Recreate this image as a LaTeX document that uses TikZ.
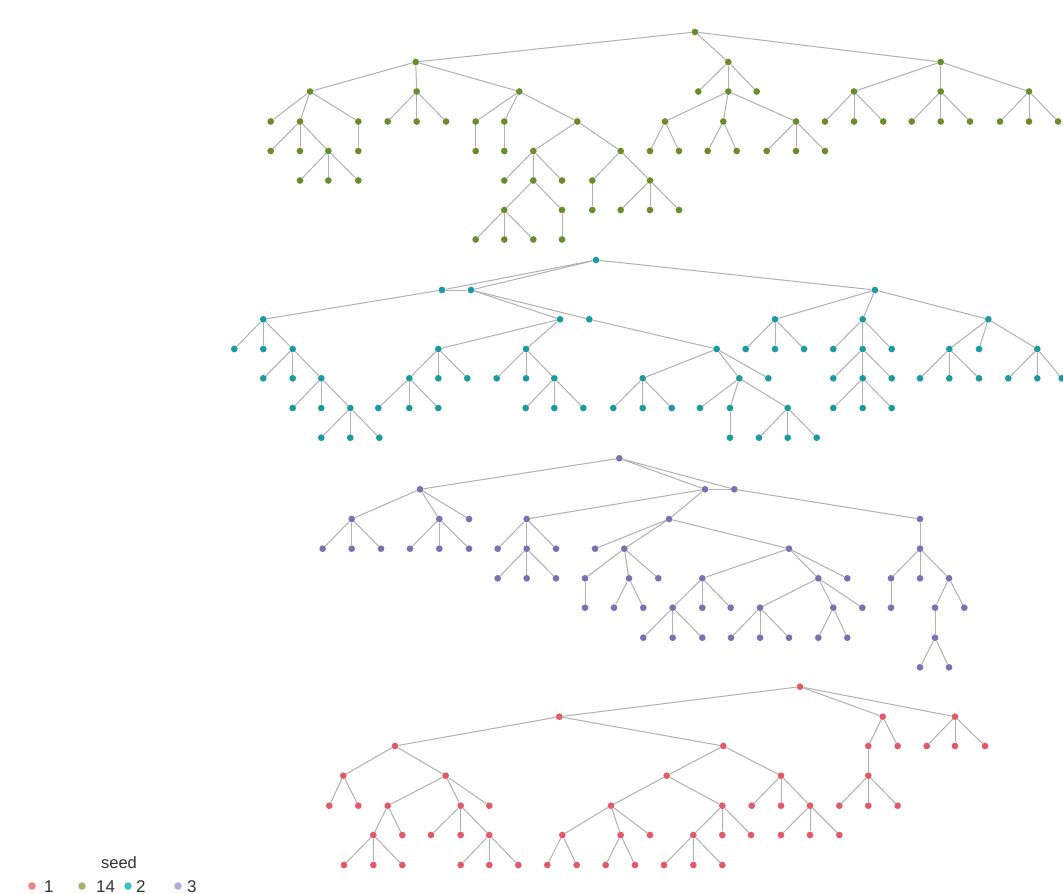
\documentclass[tikz,border=0pt]{standalone}
\usepackage{fontspec}
\setmainfont{Liberation Sans}
\definecolor{cg}{HTML}{6B8C2A}
\definecolor{ct}{HTML}{1B9AA0}
\definecolor{cp}{HTML}{7B70B0}
\definecolor{cr}{HTML}{E05A6A}
\definecolor{lg}{HTML}{A8B070}
\definecolor{lt}{HTML}{3CC0C2}
\definecolor{lp}{HTML}{B0ACD8}
\definecolor{lr}{HTML}{EE8088}
\definecolor{edgec}{HTML}{B0B0B0}
\definecolor{txt}{HTML}{333333}
\tikzset{
  dot/.style={circle,inner sep=0pt,minimum size=6.7pt,draw=none},
  gn/.style={dot,fill=cg},
  tn/.style={dot,fill=ct},
  pn/.style={dot,fill=cp},
  rn/.style={dot,fill=cr},
  edge/.style={draw=edgec,line width=1pt},
  legdot/.style={circle,inner sep=0pt,minimum size=7.5pt},
  legtxt/.style={text=txt,font=\fontsize{17}{17}\selectfont,inner sep=0pt,anchor=base west}
}
\begin{document}
\begin{tikzpicture}[x=1pt,y=-1pt]
\useasboundingbox (0,0) rectangle (1063,894);
\fill[white] (0,0) rectangle (1063,894);
% ---------------- tree 1 (seed 14) ----------------
\foreach \n/\x/\y in {
 g0/695/32, g1/415.7/62, g2/728.3/62, g3/940.7/62,
 g4/310/91.5, g5/416.7/91.5, g6/519.3/91.5,
 g7/270.7/121.5, g8/300/121.5, g9/358.3/121.5,
 g10/270.7/151, g11/300/151, g12/328.3/151,
 g13/300/180.5, g14/328.3/180.5, g15/358.3/180.5, g16/358.3/151,
 g17/387.7/121.5, g18/416.7/121.5, g19/446/121.5,
 g20/475.7/121.5, g21/504.3/121.5, g22/577.3/121.5,
 g23/475.7/151, g24/504.3/151, g25/533.3/151, g26/620.7/151,
 g27/504.3/180.5, g28/533.3/180.5, g29/562/180.5,
 g30/504.3/210, g31/562/210,
 g32/475.7/239.5, g33/504.3/239.5, g34/533.3/239.5, g35/562/239.5,
 g36/592.3/180.5, g37/650/180.5, g38/592.3/210,
 g39/620.7/210, g40/650/210, g41/679/210,
 g42/698.3/91.5, g43/728.3/91.5, g44/756.7/91.5,
 g45/665/121.5, g46/723.3/121.5, g47/796/121.5,
 g48/650/151, g49/679/151, g50/707.7/151, g51/736.7/151,
 g52/766.7/151, g53/796/151, g54/825/151,
 g55/854/91.5, g56/940.7/91.5, g57/1029/91.5,
 g58/825/121.5, g59/854/121.5, g60/883.3/121.5,
 g61/911.7/121.5, g62/940.7/121.5, g63/970/121.5,
 g64/1000/121.5, g65/1029/121.5, g66/1058/121.5}
 \node[gn] (\n) at (\x,\y) {};
\foreach \a/\b in {
 g0/g1, g0/g2, g0/g3, g1/g4, g1/g5, g1/g6,
 g4/g7, g4/g8, g4/g9, g8/g10, g8/g11, g8/g12,
 g12/g13, g12/g14, g12/g15, g9/g16,
 g5/g17, g5/g18, g5/g19, g6/g20, g6/g21, g6/g22,
 g20/g23, g21/g24, g22/g25, g22/g26,
 g25/g27, g25/g28, g25/g29, g28/g30, g28/g31,
 g30/g32, g30/g33, g30/g34, g31/g35,
 g26/g36, g26/g37, g36/g38, g37/g39, g37/g40, g37/g41,
 g2/g42, g2/g43, g2/g44, g43/g45, g43/g46, g43/g47,
 g45/g48, g45/g49, g46/g50, g46/g51, g47/g52, g47/g53, g47/g54,
 g3/g55, g3/g56, g3/g57, g55/g58, g55/g59, g55/g60,
 g56/g61, g56/g62, g56/g63, g57/g64, g57/g65, g57/g66}
 \draw[edge] (\a) -- (\b);
% ---------------- tree 2 (seed 2) ----------------
\foreach \n/\x/\y in {
 c0/596/260, c1/442/290, c2/471/290, c3/875/290,
 c4/263.3/319.3, c5/560/319.3, c6/589.3/319.3,
 c7/234.3/349, c8/263.3/349, c9/292.7/349,
 c10/263.3/378.3, c11/292.7/378.3, c12/321.3/378.3,
 c13/292.7/408, c14/321.3/408, c15/350.3/408,
 c16/321.3/437.7, c17/350.3/437.7, c18/379.3/437.7,
 c19/438.3/349, c20/526/349,
 c21/409.3/378.3, c22/438.3/378.3, c23/467.3/378.3,
 c24/378.3/408, c25/409.3/408, c26/438.3/408,
 c27/496.7/378.3, c28/526/378.3, c29/554.3/378.3,
 c30/525.7/408, c31/554.3/408, c32/583.3/408,
 c33/716.7/349,
 c34/642.7/378.3, c35/739.3/378.3, c36/768.3/378.3,
 c37/613.3/408, c38/642.7/408, c39/671.7/408,
 c40/700/408, c41/730/408, c42/787.7/408,
 c43/730/437.7, c44/759/437.7, c45/787.7/437.7, c46/816.7/437.7,
 c47/775/319.3, c48/862.7/319.3, c49/988.3/319.3,
 c50/745.7/349, c51/775/349, c52/804/349,
 c53/833.3/349, c54/862.7/349, c55/891.7/349,
 c56/833.3/378.3, c57/862.7/378.3, c58/891.7/378.3,
 c59/833.3/408, c60/862.7/408, c61/891.7/408,
 c62/949.3/349, c63/979/349, c64/1037.3/349,
 c65/920/378.3, c66/949.3/378.3, c67/979/378.3,
 c68/1008.3/378.3, c69/1037.3/378.3, c70/1061.7/378.3}
 \node[tn] (\n) at (\x,\y) {};
\foreach \a/\b in {
 c0/c1, c0/c2, c0/c3, c1/c2, c1/c4, c2/c5, c2/c6,
 c4/c7, c4/c8, c4/c9, c9/c10, c9/c11, c9/c12,
 c12/c13, c12/c14, c12/c15, c15/c16, c15/c17, c15/c18,
 c5/c19, c5/c20, c19/c21, c19/c22, c19/c23,
 c21/c24, c21/c25, c21/c26,
 c20/c27, c20/c28, c20/c29, c29/c30, c29/c31, c29/c32,
 c6/c33, c33/c34, c33/c35, c33/c36,
 c34/c37, c34/c38, c34/c39, c35/c40, c35/c41, c35/c42,
 c41/c43, c42/c44, c42/c45, c42/c46,
 c3/c47, c3/c48, c3/c49, c47/c50, c47/c51, c47/c52,
 c48/c53, c48/c54, c48/c55, c54/c56, c54/c57, c54/c58,
 c57/c59, c57/c60, c57/c61,
 c49/c62, c49/c63, c49/c64, c62/c65, c62/c66, c62/c67,
 c64/c68, c64/c69, c64/c70}
 \draw[edge] (\a) -- (\b);
% ---------------- tree 3 (seed 3) ----------------
\foreach \n/\x/\y in {
 p0/619.3/458.3, p1/420/489.3, p2/705/489.3, p3/734.3/489.3,
 p4/351.7/519, p5/439.3/519, p6/469/519,
 p7/322.7/548.7, p8/351.7/548.7, p9/381/548.7,
 p10/410/548.7, p11/439.3/548.7, p12/469/548.7,
 p13/526.7/519, p14/669/519,
 p15/497.7/548.7, p16/526.7/548.7, p17/556/548.7,
 p18/497.7/578.3, p19/526.7/578.3, p20/556/578.3,
 p21/595/548.7, p22/624.3/548.7, p23/789/548.7,
 p24/585/578.3, p25/629/578.3, p26/658.3/578.3,
 p27/585/607.7, p28/614/607.7, p29/643.3/607.7,
 p30/702.3/578.3, p31/818.3/578.3, p32/847.3/578.3,
 p33/672.7/607.7, p34/702.3/607.7, p35/730.7/607.7,
 p36/643.3/637.7, p37/672.7/637.7, p38/702.3/637.7,
 p39/760/607.7, p40/833.3/607.7, p41/862.3/607.7,
 p42/731/637.7, p43/760/637.7, p44/789/637.7,
 p45/818.3/637.7, p46/847.3/637.7,
 p47/920/519, p48/920/548.7,
 p49/891/578.3, p50/920/578.3, p51/949/578.3,
 p52/891/607.7, p53/935/607.7, p54/964.3/607.7,
 p55/935/637.7, p56/920/667.3, p57/949/667.3}
 \node[pn] (\n) at (\x,\y) {};
\foreach \a/\b in {
 p0/p1, p0/p2, p0/p3, p2/p3,
 p1/p4, p1/p5, p1/p6, p4/p7, p4/p8, p4/p9, p5/p10, p5/p11, p5/p12,
 p2/p13, p2/p14, p13/p15, p13/p16, p13/p17, p16/p18, p16/p19, p16/p20,
 p14/p21, p14/p22, p14/p23, p22/p24, p22/p25, p22/p26,
 p24/p27, p25/p28, p25/p29,
 p23/p30, p23/p31, p23/p32, p30/p33, p30/p34, p30/p35,
 p33/p36, p33/p37, p33/p38, p31/p39, p31/p40, p31/p41,
 p39/p42, p39/p43, p39/p44, p40/p45, p40/p46,
 p3/p47, p47/p48, p48/p49, p48/p50, p48/p51,
 p49/p52, p51/p53, p51/p54, p53/p55, p55/p56, p55/p57}
 \draw[edge] (\a) -- (\b);
% ---------------- tree 4 (seed 1) ----------------
\foreach \n/\x/\y in {
 r0/800/686.7, r1/559.3/716.7, r2/882.7/716.7, r3/955/716.7,
 r4/395/746, r5/723.3/746,
 r6/343.3/775.7, r7/445.7/775.7,
 r8/329.3/805.7, r9/358.3/805.7,
 r10/387.7/805.7, r11/460.7/805.7, r12/489.3/805.7,
 r13/373.3/835, r14/402.3/835,
 r15/344/865, r16/373.3/865, r17/402.3/865,
 r18/431/835, r19/460.7/835, r20/489.3/835,
 r21/460.7/865, r22/489.3/865, r23/518.3/865,
 r24/666.7/775.7, r25/781/775.7,
 r26/611/805.7, r27/722.3/805.7,
 r28/562.3/835, r29/620.7/835, r30/650/835,
 r31/547.3/865, r32/576.7/865, r33/605.7/865, r34/635/865,
 r35/693.3/835, r36/722.3/835, r37/751/835,
 r38/664/865, r39/693.3/865, r40/722.3/865,
 r41/751.7/805.7, r42/781/805.7, r43/810/805.7,
 r44/781/835, r45/810/835, r46/839.3/835,
 r47/868.3/746, r48/897.7/746, r49/868.3/775.7,
 r50/839.3/805.7, r51/868.3/805.7, r52/897.7/805.7,
 r53/926.7/746, r54/955/746, r55/985/746}
 \node[rn] (\n) at (\x,\y) {};
\foreach \a/\b in {
 r0/r1, r0/r2, r0/r3, r1/r4, r1/r5,
 r4/r6, r4/r7, r6/r8, r6/r9, r7/r10, r7/r11, r7/r12,
 r10/r13, r10/r14, r13/r15, r13/r16, r13/r17,
 r11/r18, r11/r19, r11/r20, r20/r21, r20/r22, r20/r23,
 r5/r24, r5/r25, r24/r26, r24/r27,
 r26/r28, r26/r29, r26/r30, r28/r31, r28/r32, r29/r33, r29/r34,
 r27/r35, r27/r36, r27/r37, r35/r38, r35/r39, r35/r40,
 r25/r41, r25/r42, r25/r43, r43/r44, r43/r45, r43/r46,
 r2/r47, r2/r48, r47/r49, r49/r50, r49/r51, r49/r52,
 r3/r53, r3/r54, r3/r55}
 \draw[edge] (\a) -- (\b);
% ---------------- legend ----------------
\node[text=txt,font=\fontsize{16.5}{16.5}\selectfont,inner sep=0pt,anchor=base] (legtitle) at (119,868) {seed};
\node[legdot,fill=lr] (l1) at (32,886) {};
\node[legtxt] (t1) at (44,892) {1};
\node[legdot,fill=lg] (l2) at (82,886) {};
\node[legtxt] (t2) at (96,892) {14};
\node[legdot,fill=lt] (l3) at (128,886) {};
\node[legtxt] (t3) at (136,892) {2};
\node[legdot,fill=lp] (l4) at (178,886) {};
\node[legtxt] (t4) at (187,892) {3};
\end{tikzpicture}
\end{document}
